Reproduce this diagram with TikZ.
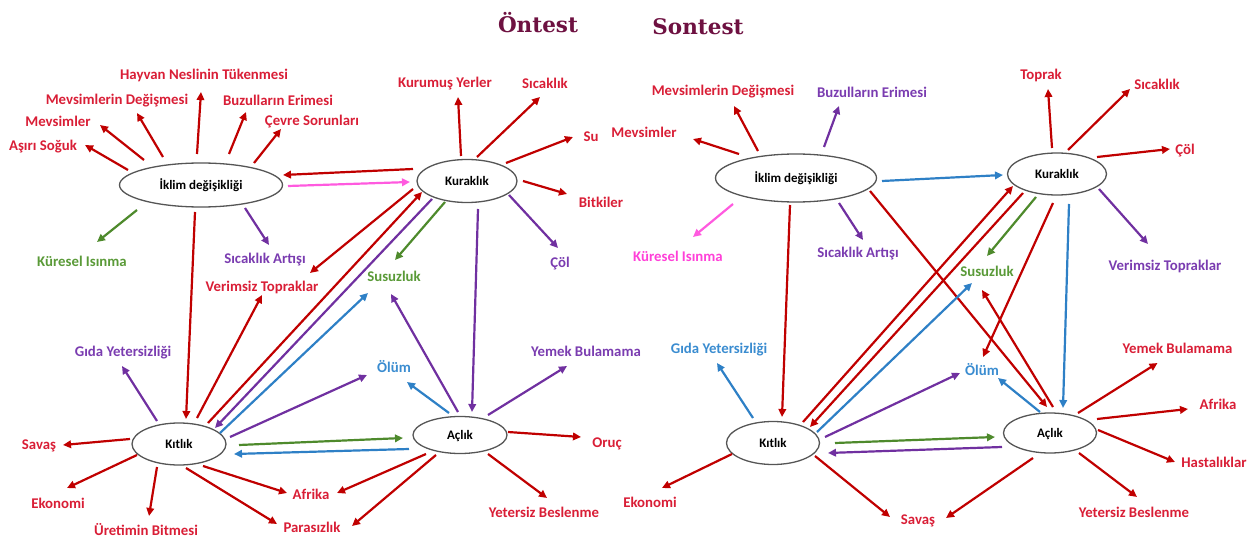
\documentclass[tikz,border=0pt]{standalone}
\usepackage{fontspec}
\setmainfont{Carlito}
\newfontfamily\ttlfont{DejaVu Serif}
\usetikzlibrary{arrows.meta,shapes.geometric}

\definecolor{arrred}{HTML}{C00000}
\definecolor{txtred}{HTML}{D91E36}
\definecolor{arrgreen}{HTML}{4E8A2C}
\definecolor{txtgreen}{HTML}{5A9A38}
\definecolor{arrpurple}{HTML}{7030A0}
\definecolor{txtpurple}{HTML}{7A3CB0}
\definecolor{arrblue}{HTML}{2E80C6}
\definecolor{txtblue}{HTML}{3A8CD0}
\definecolor{arrpink}{HTML}{FF5ADF}
\definecolor{txtpink}{HTML}{FF40D8}
\definecolor{ellgray}{HTML}{555555}
\definecolor{ttlcol}{HTML}{6E1141}

\tikzset{
  ell/.style={ellipse, draw=ellgray, line width=1.3pt, fill=white, inner sep=0pt,
    font=\fontsize{13}{14}\selectfont\bfseries, text height=8.5pt, text depth=0pt},
  lab/.style={inner sep=0pt, font=\fontsize{14.8}{16}\selectfont\bfseries,
    text height=9.5pt, text depth=0pt},
  lred/.style={lab, text=txtred},
  lgreen/.style={lab, text=txtgreen},
  lpurple/.style={lab, text=txtpurple},
  lblue/.style={lab, text=txtblue},
  lpink/.style={lab, text=txtpink},
  con/.style={line width=2.2pt, -{Triangle[length=8pt,width=7.5pt]}},
  ra/.style={con, draw=arrred},
  ga/.style={con, draw=arrgreen},
  pa/.style={con, draw=arrpurple},
  ba/.style={con, draw=arrblue},
  ka/.style={con, draw=arrpink},
  ttl/.style={inner sep=0pt, anchor=base, text=ttlcol, font=\ttlfont\fontsize{21.5}{24}\selectfont\bfseries}
}

\begin{document}
\begin{tikzpicture}[x=1pt, y=-1pt]
\useasboundingbox (0,0) rectangle (1256,548);

% titles
\node[ttl] (t1) at (538,33) {Öntest};
\node[ttl] (t2) at (698,35) {Sontest};

% ---------------- pre-test map ----------------
\node[ell, minimum width=163pt, minimum height=44pt] (ikl1) at (201,185) {İklim değişikliği};
\node[ell, minimum width=100pt, minimum height=43pt] (kur1) at (467,181) {Kuraklık};
\node[ell, minimum width=94pt, minimum height=42pt] (kit1) at (179,444) {Kıtlık};
\node[ell, minimum width=94pt, minimum height=37pt] (acl1) at (460,435) {Açlık};

\node[lred] (asiri) at (43,146) {Aşırı Soğuk};
\node[lred] (mevs1) at (58,122) {Mevsimler};
\node[lred] (mevd1) at (117,100) {Mevsimlerin Değişmesi};
\node[lred] (hayvan) at (204,75) {Hayvan Neslinin Tükenmesi};
\node[lred] (buz1) at (278,101) {Buzulların Erimesi};
\node[lred] (cevre) at (312,121) {Çevre Sorunları};
\node[lgreen] (kures1) at (82,262) {Küresel Isınma};
\node[lpurple] (sicart1) at (265,259) {Sıcaklık Artışı};
\node[lred] (verim1) at (262,287) {Verimsiz Topraklar};
\node[lred] (kurumus) at (445,83) {Kurumuş Yerler};
\node[lred] (sicak1) at (545,84) {Sıcaklık};
\node[lred] (su) at (591,137) {Su};
\node[lred] (bitki) at (601,203) {Bitkiler};
\node[lpurple] (col1) at (560,263) {Çöl};
\node[lgreen] (susuz1) at (394,277) {Susuzluk};
\node[lblue] (olum1) at (394,368) {Ölüm};
\node[lpurple] (gida1) at (123,352) {Gıda Yetersizliği};
\node[lpurple] (yemek1) at (586,352) {Yemek Bulamama};
\node[lred] (savas1) at (39,445) {Savaş};
\node[lred] (ekon1) at (58,504) {Ekonomi};
\node[lred] (uret) at (146,531) {Üretimin Bitmesi};
\node[lred] (afrika1) at (311,495) {Afrika};
\node[lred] (paras) at (312,528) {Parasızlık};
\node[lred] (oruc) at (607,443) {Oruç};
\node[lred] (yeter1) at (544,513) {Yetersiz Beslenme};

% from İklim değişikliği
\draw[ra] ([shift={(-73,-15)}]ikl1.center) -- ([shift={(42,-1)}]asiri.center);
\draw[ra] ([shift={(-57,-25)}]ikl1.center) -- ([shift={(42,3)}]mevs1.center);
\draw[ra] ([shift={(-38,-28)}]ikl1.center) -- ([shift={(20,13)}]mevd1.center);
\draw[ra] ([shift={(-4,-31)}]ikl1.center) -- ([shift={(-3,17)}]hayvan.center);
\draw[ra] ([shift={(28,-31)}]ikl1.center) -- ([shift={(-32,11)}]buz1.center);
\draw[ra] ([shift={(53,-22)}]ikl1.center) -- ([shift={(-31,8)}]cevre.center);
\draw[ga] ([shift={(-64,25)}]ikl1.center) -- ([shift={(15,-20)}]kures1.center);
\draw[pa] ([shift={(44,23)}]ikl1.center) -- ([shift={(4,-14)}]sicart1.center);
\draw[ra] ([shift={(-6,27)}]ikl1.center) -- ([shift={(7,-25)}]kit1.center);

% from Kuraklık
\draw[ra] ([shift={(-54,-12)}]kur1.center) -- ([shift={(82,-10)}]ikl1.center);
\draw[ka] ([shift={(87,1)}]ikl1.center) -- ([shift={(-57,1)}]kur1.center);
\draw[ra] ([shift={(-6,-25)}]kur1.center) -- ([shift={(13,14)}]kurumus.center);
\draw[ra] ([shift={(10,-24)}]kur1.center) -- ([shift={(-5,13)}]sicak1.center);
\draw[ra] ([shift={(39,-18)}]kur1.center) -- ([shift={(-18,0)}]su.center);
\draw[ra] ([shift={(56,0)}]kur1.center) -- ([shift={(-34,-9)}]bitki.center);
\draw[pa] ([shift={(42,14)}]kur1.center) -- ([shift={(-2,-15)}]col1.center);
\draw[ga] ([shift={(-22,21)}]kur1.center) -- ([shift={(1,-17)}]susuz1.center);
\draw[ra] ([shift={(-54,8)}]kur1.center) -- ([shift={(48,-14)}]verim1.center);
\draw[ra] ([shift={(29,-21)}]kit1.center) -- ([shift={(-45,11)}]kur1.center);
\draw[pa] ([shift={(-35,18)}]kur1.center) -- ([shift={(36,-16)}]kit1.center);
\draw[pa] ([shift={(11,28)}]kur1.center) -- ([shift={(12,-23)}]acl1.center);

% from Kıtlık
\draw[ra] ([shift={(18,-26)}]kit1.center) -- ([shift={(0,8)}]verim1.center);
\draw[ba] ([shift={(41,-11)}]kit1.center) -- ([shift={(-26,16)}]susuz1.center);
\draw[pa] ([shift={(51,-7)}]kit1.center) -- ([shift={(-27,7)}]olum1.center);
\draw[pa] ([shift={(-22,-23)}]kit1.center) -- ([shift={(-1,14)}]gida1.center);
\draw[ra] ([shift={(-49,-5)}]kit1.center) -- ([shift={(24,0)}]savas1.center);
\draw[ra] ([shift={(-42,11)}]kit1.center) -- ([shift={(9,-16)}]ekon1.center);
\draw[ra] ([shift={(-22,23)}]kit1.center) -- ([shift={(3,-15)}]uret.center);
\draw[ra] ([shift={(24,22)}]kit1.center) -- ([shift={(-24,-2)}]afrika1.center);
\draw[ra] ([shift={(7,24)}]kit1.center) -- ([shift={(-35,-4)}]paras.center);
\draw[ga] ([shift={(60,1)}]kit1.center) -- ([shift={(-57,3)}]acl1.center);
\draw[ba] ([shift={(-51,14)}]acl1.center) -- ([shift={(55,10)}]kit1.center);

% from Açlık
\draw[ba] ([shift={(-11,-22)}]acl1.center) -- ([shift={(13,14)}]olum1.center);
\draw[pa] ([shift={(-2,-23)}]acl1.center) -- ([shift={(-3,17)}]susuz1.center);
\draw[pa] ([shift={(28,-20)}]acl1.center) -- ([shift={(-19,14)}]yemek1.center);
\draw[ra] ([shift={(48,-3)}]acl1.center) -- ([shift={(-26,-6)}]oruc.center);
\draw[ra] ([shift={(28,19)}]acl1.center) -- ([shift={(3,-15)}]yeter1.center);
\draw[ra] ([shift={(-34,19)}]acl1.center) -- ([shift={(26,-2)}]afrika1.center);
\draw[ra] ([shift={(-24,20)}]acl1.center) -- ([shift={(40,-2)}]paras.center);

% ---------------- post-test map ----------------
\node[ell, minimum width=161pt, minimum height=48pt] (ikl2) at (796,178) {İklim değişikliği};
\node[ell, minimum width=99pt, minimum height=42pt] (kur2) at (1057,174) {Kuraklık};
\node[ell, minimum width=93pt, minimum height=43pt] (kit2) at (773,443) {Kıtlık};
\node[ell, minimum width=93pt, minimum height=40pt] (acl2) at (1050,433) {Açlık};

\node[lred] (mevd2) at (723,91) {Mevsimlerin Değişmesi};
\node[lpurple] (buz2) at (872,93) {Buzulların Erimesi};
\node[lred] (mevs2) at (644,133) {Mevsimler};
\node[lpink] (kures2) at (678,257) {Küresel Isınma};
\node[lpurple] (sicart2) at (858,253) {Sıcaklık Artışı};
\node[lred] (toprak) at (1041,75) {Toprak};
\node[lred] (sicak2) at (1157,85) {Sıcaklık};
\node[lred] (col2) at (1185,150) {Çöl};
\node[lpurple] (verim2) at (1165,266) {Verimsiz Topraklar};
\node[lgreen] (susuz2) at (987,272) {Susuzluk};
\node[lblue] (olum2) at (982,371) {Ölüm};
\node[lblue] (gida2) at (719,349) {Gıda Yetersizliği};
\node[lred] (ekon2) at (650,503) {Ekonomi};
\node[lred] (savas2) at (918,520) {Savaş};
\node[lred] (yemek2) at (1177.5,349) {Yemek Bulamama};
\node[lred] (afrika2) at (1218,405) {Afrika};
\node[lred] (hasta) at (1214,463) {Hastalıklar};
\node[lred] (yeter2) at (1134,513) {Yetersiz Beslenme};

% from İklim değişikliği
\draw[ra] ([shift={(-57,-24)}]ikl2.center) -- ([shift={(49,6)}]mevs2.center);
\draw[ra] ([shift={(-38,-27)}]ikl2.center) -- ([shift={(11,15)}]mevd2.center);
\draw[pa] ([shift={(28,-31)}]ikl2.center) -- ([shift={(-33,13)}]buz2.center);
\draw[ka] ([shift={(-63,26)}]ikl2.center) -- ([shift={(15,-20)}]kures2.center);
\draw[pa] ([shift={(43,25)}]ikl2.center) -- ([shift={(5,-13)}]sicart2.center);
\draw[ra] ([shift={(-6,27)}]ikl2.center) -- ([shift={(9,-26)}]kit2.center);
\draw[ba] ([shift={(86,3)}]ikl2.center) -- ([shift={(-54,1)}]kur2.center);
\draw[ra] ([shift={(74,13)}]ikl2.center) -- ([shift={(-3,-26)}]acl2.center);

% from Kuraklık
\draw[ra] ([shift={(-5,-26)}]kur2.center) -- ([shift={(7,14)}]toprak.center);
\draw[ra] ([shift={(11,-24)}]kur2.center) -- ([shift={(-27,4)}]sicak2.center);
\draw[ra] ([shift={(40,-17)}]kur2.center) -- ([shift={(-15,-1)}]col2.center);
\draw[pa] ([shift={(42,15)}]kur2.center) -- ([shift={(-17,-22)}]verim2.center);
\draw[ga] ([shift={(-21,23)}]kur2.center) -- ([shift={(0,-16)}]susuz2.center);
\draw[ra] ([shift={(-4,29)}]kur2.center) -- ([shift={(1,-14)}]olum2.center);
\draw[ba] ([shift={(12,30)}]kur2.center) -- ([shift={(13,-25)}]acl2.center);
\draw[ra] ([shift={(30,-21)}]kit2.center) -- ([shift={(-44,12)}]kur2.center);
\draw[ra] ([shift={(-34,19)}]kur2.center) -- ([shift={(37,-16)}]kit2.center);

% from Kıtlık
\draw[ba] ([shift={(44,-11)}]kit2.center) -- ([shift={(-15,11)}]susuz2.center);
\draw[pa] ([shift={(52,-6)}]kit2.center) -- ([shift={(-22,2)}]olum2.center);
\draw[ba] ([shift={(-20,-25)}]kit2.center) -- ([shift={(-2,14)}]gida2.center);
\draw[ra] ([shift={(-41,11)}]kit2.center) -- ([shift={(12,-15)}]ekon2.center);
\draw[ra] ([shift={(42,13)}]kit2.center) -- ([shift={(-28,-3)}]savas2.center);
\draw[ga] ([shift={(62,0)}]kit2.center) -- ([shift={(-55,4)}]acl2.center);
\draw[pa] ([shift={(-48,14)}]acl2.center) -- ([shift={(55,10)}]kit2.center);

% from Açlık
\draw[ba] ([shift={(-10,-21)}]acl2.center) -- ([shift={(16,7)}]olum2.center);
\draw[ra] ([shift={(3,-26)}]acl2.center) -- ([shift={(-5,18)}]susuz2.center);
\draw[ra] ([shift={(28,-20)}]acl2.center) -- ([shift={(-20,14)}]yemek2.center);
\draw[ra] ([shift={(47,-14)}]acl2.center) -- ([shift={(-30,4)}]afrika2.center);
\draw[ra] ([shift={(48,-3)}]acl2.center) -- ([shift={(-39,-1)}]hasta.center);
\draw[ra] ([shift={(29,20)}]acl2.center) -- ([shift={(3,-16)}]yeter2.center);
\draw[ra] ([shift={(-17,25)}]acl2.center) -- ([shift={(28,-2)}]savas2.center);
\end{tikzpicture}
\end{document}
